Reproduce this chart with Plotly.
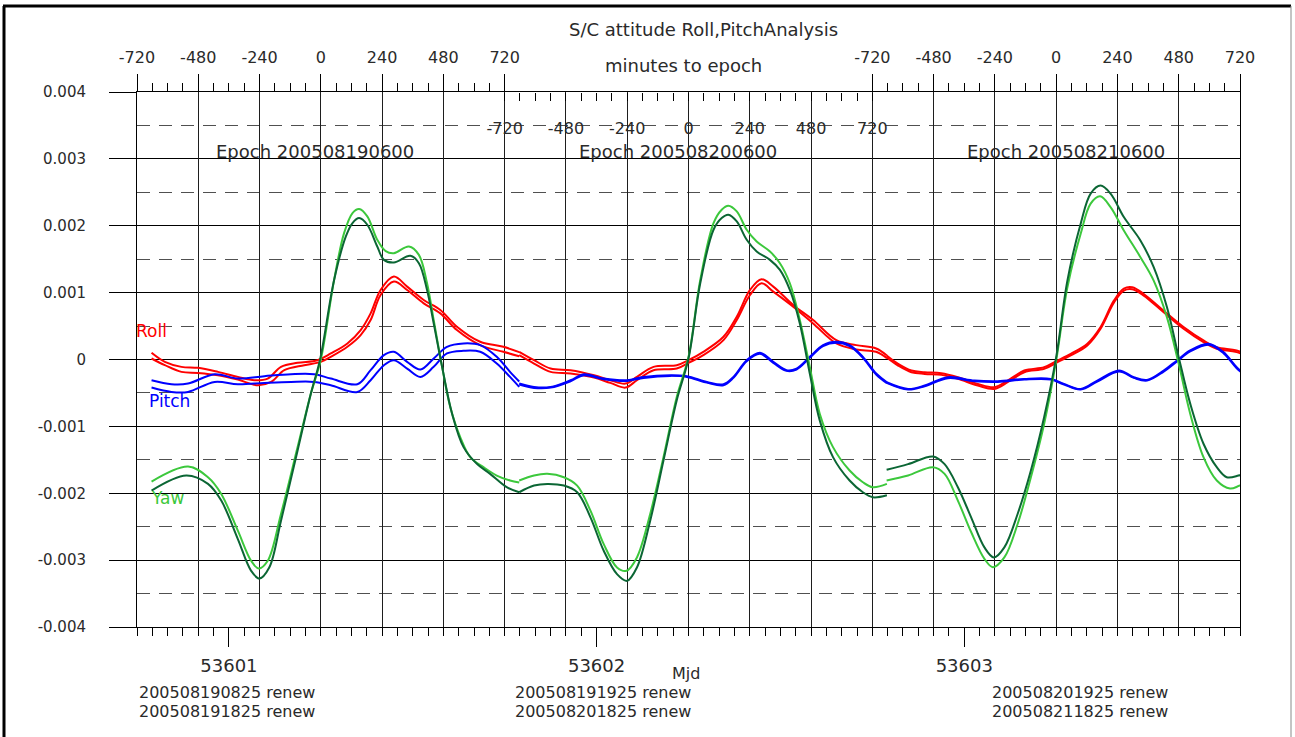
import plotly.graph_objects as go

# ---------------------------------------------------------------- canvas
W, H = 1295, 737
ML, MR, MT, MB = 137, 55, 92, 110
PW = W - ML - MR
PH = H - MT - MB


def px(x):
    """pixel column -> paper fraction"""
    return (x - ML) / PW


def py(y):
    """pixel row -> paper fraction"""
    return (H - MB - y) / PH


# ---------------------------------------------------------------- axes data
MJD_START, MJD_END = 53600.75, 53603.75
MJD_TICKS = [53601, 53602, 53603]
EPOCH_MJD = [53601.25, 53602.25, 53603.25]
EPOCH_NAMES = ["200508190600", "200508200600", "200508210600"]
MINUTE_TICKS = [-720, -480, -240, 0, 240, 480, 720]
Y_TICKS = [-0.004, -0.003, -0.002, -0.001, 0.0, 0.001, 0.002, 0.003, 0.004]
Y_TICK_TEXT = ["-0.004", "-0.003", "-0.002", "-0.001", "0",
               "0.001", "0.002", "0.003", "0.004"]
Y_HALF = [-0.0035, -0.0025, -0.0015, -0.0005, 0.0005, 0.0015, 0.0025, 0.0035]
RENEW_LABELS = [
    ["200508190825 renew", "200508191825 renew"],
    ["200508191925 renew", "200508201825 renew"],
    ["200508201925 renew", "200508211825 renew"],
]

SCALE = 1e-3  # values below are in units of 1e-3 rad

# ---------------------------------------------------------------- series
# (minutes to epoch, value) pairs, one list per prediction
ROLL_D1_A = [(-663, 0.10), (-611, -0.035), (-546, -0.11), (-481, -0.125), (-403, -0.185),
             (-325, -0.26), (-260, -0.31), (-208, -0.285), (-156, -0.11), (-91, -0.05),
             (-13, -0.01), (39, 0.09), (104, 0.24), (156, 0.44), (195, 0.69), (234, 1.04),
             (286, 1.24), (338, 1.09), (403, 0.89), (468, 0.74), (533, 0.49), (624, 0.265),
             (715, 0.19), (777, 0.11)]
ROLL_D1_B = [(-663, 0.015), (-611, -0.085), (-546, -0.185), (-481, -0.20), (-403, -0.235),
             (-325, -0.30), (-247, -0.385), (-195, -0.335), (-143, -0.16), (-65, -0.085),
             (0, -0.035), (39, 0.04), (104, 0.19), (156, 0.365), (195, 0.59), (234, 0.965),
             (286, 1.165), (338, 1.04), (403, 0.84), (468, 0.69), (533, 0.44), (624, 0.215),
             (715, 0.115), (777, 0.05)]
PITCH_D1_A = [(-663, -0.31), (-585, -0.37), (-520, -0.36), (-416, -0.22), (-325, -0.285),
              (-221, -0.25), (-117, -0.22), (-26, -0.22), (39, -0.285), (143, -0.37),
              (195, -0.16), (247, 0.065), (286, 0.115), (338, -0.035), (390, -0.15),
              (442, 0.015), (494, 0.19), (559, 0.24), (624, 0.215), (689, 0.04),
              (741, -0.185), (777, -0.33)]
PITCH_D1_B = [(-663, -0.42), (-585, -0.485), (-520, -0.485), (-416, -0.335), (-325, -0.37),
              (-221, -0.35), (-117, -0.335), (-26, -0.335), (39, -0.385), (143, -0.485),
              (195, -0.31), (247, -0.085), (286, -0.01), (338, -0.135), (390, -0.26),
              (442, -0.11), (494, 0.09), (559, 0.13), (624, 0.115), (689, -0.06),
              (741, -0.26), (777, -0.41)]
YAW_D1_A = [(-663, -1.825), (-520, -1.60), (-442, -1.76), (-390, -2.01), (-325, -2.56),
            (-273, -3.01), (-243, -3.125), (-208, -3.01), (-156, -2.31), (-91, -1.31),
            (-39, -0.51), (0, 0.0), (52, 1.19), (91, 1.89), (124, 2.19), (150, 2.25),
            (182, 2.14), (221, 1.79), (254, 1.62), (286, 1.59), (345, 1.69), (384, 1.565),
            (416, 1.14), (442, 0.59), (475, -0.11), (507, -0.71), (546, -1.16),
            (585, -1.46), (637, -1.61), (689, -1.735), (741, -1.81), (777, -1.84)]
YAW_D1_B = [(-663, -1.96), (-527, -1.735), (-442, -1.86), (-390, -2.11), (-325, -2.685),
            (-273, -3.16), (-241, -3.275), (-202, -3.11), (-156, -2.41), (-91, -1.36),
            (-39, -0.51), (-3, 0.0), (52, 1.19), (98, 1.84), (124, 2.04), (150, 2.115),
            (182, 2.015), (221, 1.69), (247, 1.49), (286, 1.45), (351, 1.55), (384, 1.44),
            (416, 1.04), (442, 0.54), (475, -0.11), (514, -0.81), (559, -1.31),
            (611, -1.56), (663, -1.71), (728, -1.91), (777, -1.985)]

ROLL_D2_A = [(-663, 0.115), (-605, -0.01), (-540, -0.135), (-462, -0.16), (-370, -0.235),
             (-306, -0.31), (-247, -0.36), (-202, -0.26), (-137, -0.11), (-46, -0.085),
             (0, -0.01), (58, 0.115), (137, 0.34), (189, 0.64), (241, 1.04), (286, 1.20),
             (332, 1.09), (410, 0.815), (488, 0.59), (579, 0.29), (657, 0.215), (735, 0.165),
             (777, 0.06)]
ROLL_D2_B = [(-663, 0.065), (-605, -0.06), (-540, -0.185), (-462, -0.21), (-370, -0.27),
             (-306, -0.35), (-247, -0.42), (-202, -0.31), (-137, -0.16), (-46, -0.135),
             (0, -0.05), (58, 0.065), (137, 0.29), (189, 0.59), (241, 0.965), (286, 1.14),
             (332, 1.015), (410, 0.79), (488, 0.54), (579, 0.24), (657, 0.15), (735, 0.115),
             (777, 0.02)]
PITCH_D2_A = [(-663, -0.36), (-605, -0.41), (-540, -0.41), (-462, -0.31), (-410, -0.22),
              (-332, -0.285), (-241, -0.31), (-176, -0.26), (-72, -0.235), (-6, -0.25),
              (72, -0.335), (137, -0.37), (176, -0.26), (228, -0.01), (280, 0.10),
              (332, -0.035), (384, -0.16), (423, -0.135), (475, 0.04), (527, 0.215),
              (579, 0.265), (631, 0.215), (683, 0.04), (735, -0.21), (777, -0.34)]
PITCH_D2_B = [(-663, -0.375), (-605, -0.425), (-540, -0.42), (-462, -0.325), (-410, -0.235),
              (-332, -0.295), (-241, -0.32), (-176, -0.275), (-72, -0.245), (-6, -0.26),
              (72, -0.345), (137, -0.385), (176, -0.275), (228, -0.025), (280, 0.085),
              (332, -0.05), (384, -0.17), (423, -0.15), (475, 0.025), (527, 0.20),
              (579, 0.25), (631, 0.20), (683, 0.025), (735, -0.225), (777, -0.355)]
YAW_D2_A = [(-663, -1.81), (-605, -1.735), (-553, -1.71), (-488, -1.76), (-436, -1.885),
            (-384, -2.26), (-332, -2.76), (-280, -3.11), (-243, -3.16), (-202, -2.96),
            (-150, -2.31), (-98, -1.46), (-46, -0.56), (0, 0.04), (46, 1.19), (98, 2.04),
            (130, 2.24), (156, 2.30), (189, 2.215), (228, 1.94), (267, 1.765), (319, 1.615),
            (358, 1.44), (397, 1.14), (436, 0.59), (475, -0.11), (514, -0.81),
            (566, -1.31), (631, -1.66), (683, -1.835), (722, -1.91), (777, -1.86)]
YAW_D2_B = [(-663, -1.985), (-605, -1.885), (-553, -1.86), (-488, -1.885), (-436, -1.985),
            (-384, -2.36), (-332, -2.86), (-280, -3.21), (-241, -3.31), (-202, -3.11),
            (-150, -2.41), (-98, -1.51), (-46, -0.61), (0, 0.015), (46, 1.14), (98, 1.94),
            (130, 2.115), (156, 2.165), (189, 2.065), (228, 1.79), (267, 1.615),
            (319, 1.49), (358, 1.34), (397, 1.04), (436, 0.54), (475, -0.21), (514, -0.91),
            (566, -1.46), (631, -1.81), (683, -1.985), (722, -2.06), (777, -2.03)]

ROLL_D3_A = [(-664, 0.06), (-619, -0.065), (-567, -0.165), (-515, -0.19), (-450, -0.205),
             (-385, -0.265), (-307, -0.365), (-242, -0.415), (-190, -0.315), (-125, -0.165),
             (-47, -0.115), (0, -0.025), (57, 0.085), (122, 0.235), (174, 0.485),
             (226, 0.88), (265, 1.06), (298, 1.08), (343, 0.98), (421, 0.73), (499, 0.485),
             (577, 0.285), (629, 0.185), (707, 0.135), (777, 0.03)]
ROLL_D3_B = [(-664, 0.03), (-619, -0.09), (-567, -0.19), (-515, -0.215), (-450, -0.23),
             (-385, -0.29), (-307, -0.39), (-242, -0.44), (-190, -0.34), (-125, -0.19),
             (-47, -0.14), (0, -0.05), (57, 0.06), (122, 0.21), (174, 0.46),
             (226, 0.85), (265, 1.03), (298, 1.05), (343, 0.955), (421, 0.705), (499, 0.46),
             (577, 0.26), (629, 0.16), (707, 0.11), (777, 0.0)]
PITCH_D3_A = [(-664, -0.34), (-580, -0.44), (-515, -0.39), (-424, -0.265), (-320, -0.315),
              (-229, -0.325), (-125, -0.29), (-21, -0.29), (31, -0.365), (96, -0.44),
              (161, -0.315), (246, -0.165), (304, -0.265), (356, -0.305), (421, -0.165),
              (473, -0.015), (525, 0.135), (597, 0.235), (655, 0.11), (707, -0.115),
              (777, -0.34)]
PITCH_D3_B = [(-664, -0.35), (-580, -0.45), (-515, -0.40), (-424, -0.28), (-320, -0.325),
              (-229, -0.335), (-125, -0.30), (-21, -0.30), (31, -0.375), (96, -0.45),
              (161, -0.33), (246, -0.18), (304, -0.275), (356, -0.315), (421, -0.18),
              (473, -0.03), (525, 0.12), (597, 0.22), (655, 0.095), (707, -0.13),
              (777, -0.355)]
YAW_D3_A = [(-664, -1.81), (-580, -1.735), (-482, -1.61), (-437, -1.71), (-385, -2.11),
            (-333, -2.58), (-281, -2.98), (-248, -3.105), (-203, -2.96), (-151, -2.46),
            (-99, -1.76), (-47, -0.96), (0, -0.015), (44, 1.08), (96, 1.88), (135, 2.33),
            (172, 2.44), (213, 2.28), (265, 1.93), (330, 1.53), (382, 1.18), (434, 0.63),
            (480, -0.065), (525, -0.81), (577, -1.46), (629, -1.81), (681, -1.93),
            (720, -1.885), (777, -1.82)]
YAW_D3_B = [(-664, -1.65), (-580, -1.565), (-482, -1.45), (-437, -1.565), (-385, -1.91),
            (-333, -2.36), (-281, -2.81), (-244, -2.96), (-203, -2.81), (-151, -2.31),
            (-99, -1.66), (-47, -0.86), (0, 0.035), (44, 1.18), (96, 2.03), (135, 2.48),
            (174, 2.60), (213, 2.48), (265, 2.13), (330, 1.78), (382, 1.38), (434, 0.78),
            (480, 0.035), (525, -0.66), (577, -1.26), (629, -1.61), (668, -1.76),
            (714, -1.735), (777, -1.64)]

ROLL_COLOR = "#ff0000"
PITCH_COLOR = "#0000ff"
YAW_LIGHT = "#3cc83c"
YAW_DARK = "#0b6634"

DAYS = [
    [(ROLL_D1_A, ROLL_COLOR), (ROLL_D1_B, ROLL_COLOR), (PITCH_D1_A, PITCH_COLOR),
     (PITCH_D1_B, PITCH_COLOR), (YAW_D1_A, YAW_LIGHT), (YAW_D1_B, YAW_DARK)],
    [(ROLL_D2_A, ROLL_COLOR), (ROLL_D2_B, ROLL_COLOR), (PITCH_D2_A, PITCH_COLOR),
     (PITCH_D2_B, PITCH_COLOR), (YAW_D2_A, YAW_LIGHT), (YAW_D2_B, YAW_DARK)],
    [(ROLL_D3_A, ROLL_COLOR), (ROLL_D3_B, ROLL_COLOR), (PITCH_D3_A, PITCH_COLOR),
     (PITCH_D3_B, PITCH_COLOR), (YAW_D3_A, YAW_LIGHT), (YAW_D3_B, YAW_DARK)],
]

FONT_FAMILY = "DejaVu Sans"
TXT = "#2a2a2a"
FONT = dict(family=FONT_FAMILY, size=18, color=TXT)
SMALL_FONT = dict(family=FONT_FAMILY, size=16, color=TXT)
Y_FONT = dict(family=FONT_FAMILY, size=15, color=TXT)
MIN_FONT = dict(family=FONT_FAMILY, size=16, color=TXT)

fig = go.Figure()

# anchor trace for the Mjd axis
fig.add_trace(go.Scatter(x=[MJD_START, MJD_END], y=[None, None], mode="lines",
                         showlegend=False, hoverinfo="skip"))

for i, day in enumerate(DAYS):
    xa = "x%d" % (i + 2)
    for pts, color in day:
        fig.add_trace(go.Scatter(
            x=[m for m, _ in pts], y=[v * SCALE for _, v in pts],
            mode="lines", xaxis=xa, yaxis="y",
            line=dict(color=color, width=2, shape="spline", smoothing=1.0),
            showlegend=False, hoverinfo="skip"))

hours = [MJD_START + h / 24 for h in range(0, 73)]
minor_minutes = [m for m in range(-720, 721, 60) if m % 240]

layout_axes = {}
layout_axes["xaxis"] = dict(
    range=[MJD_START, MJD_END], domain=[0, 1],
    tickmode="array", tickvals=MJD_TICKS, ticktext=[str(t) for t in MJD_TICKS],
    ticks="outside", ticklen=19, tickwidth=1, tickcolor="black",
    ticklabelstandoff=3,
    showgrid=False, zeroline=False,
    showline=True, linecolor="black", linewidth=1, mirror=True,
    tickfont=FONT,
    minor=dict(tickmode="array", tickvals=hours, ticks="outside", ticklen=8,
               tickwidth=1, tickcolor="black", showgrid=False),
)

for i, ep in enumerate(EPOCH_MJD):
    rng = [(MJD_START - ep) * 1440, (MJD_END - ep) * 1440]
    ax = dict(
        overlaying="x", range=rng,
        tickmode="array", tickvals=MINUTE_TICKS, ticktext=[str(t) for t in MINUTE_TICKS],
        ticks="outside", tickwidth=1, tickcolor="black",
        showgrid=True, gridcolor="#1e1e1e", gridwidth=1,
        zeroline=False, showline=False, tickfont=MIN_FONT,
        minor=dict(tickmode="array", tickvals=minor_minutes, ticks="outside", ticklen=8,
                   tickwidth=1, tickcolor="black", showgrid=False),
    )
    if i == 1:
        ax.update(anchor="free", position=1.0, side="bottom", ticklen=8,
                  ticklabelstandoff=14)
    else:
        ax.update(anchor="y", side="top", ticklen=17, ticklabelstandoff=5)
    layout_axes["xaxis%d" % (i + 2)] = ax

layout_axes["yaxis"] = dict(
    range=[-0.004, 0.004], domain=[0, 1],
    tickmode="array", tickvals=Y_TICKS, ticktext=Y_TICK_TEXT,
    ticks="outside", ticklen=27, tickwidth=1, tickcolor="black",
    ticklabelstandoff=20,
    showgrid=True, gridcolor="black", gridwidth=1, zeroline=False,
    showline=True, linecolor="black", linewidth=1, mirror=True,
    tickfont=Y_FONT,
    minor=dict(tickmode="array", tickvals=Y_HALF, ticks="", showgrid=True,
               gridcolor="#505050", gridwidth=1, griddash="13px,9px"),
)

annotations = [
    dict(text="S/C attitude Roll,PitchAnalysis", x=px(703), y=py(30)),
    dict(text="minutes to epoch", x=px(683), y=py(65)),
    dict(text="Mjd", x=px(686), y=py(673), font=SMALL_FONT),
]
for name, cx in zip(EPOCH_NAMES, [315, 678, 1066]):
    annotations.append(dict(text="Epoch " + name, x=px(cx), y=py(151)))
for pair, lx in zip(RENEW_LABELS, [137, 513, 990]):
    annotations.append(dict(text=pair[0], x=px(lx), y=py(692), xanchor="left",
                            font=SMALL_FONT))
    annotations.append(dict(text=pair[1], x=px(lx), y=py(711), xanchor="left",
                            font=SMALL_FONT))
for text, color, lx, ly in [("Roll", ROLL_COLOR, 134, 331), ("Pitch", PITCH_COLOR, 147, 401),
                            ("Yaw", YAW_LIGHT, 149, 498)]:
    annotations.append(dict(text=text, x=px(lx), y=py(ly), xanchor="left",
                            font=dict(family=FONT_FAMILY, size=17, color=color)))
for a in annotations:
    a.setdefault("xanchor", "center")
    a.update(xref="paper", yref="paper", yanchor="middle", showarrow=False)
    a.setdefault("font", FONT)

# window frame
shapes = [
    dict(type="line", x0=px(4), x1=px(4), y0=py(6), y1=py(745),
         line=dict(color="black", width=3)),
    dict(type="line", x0=px(3), x1=px(1291), y0=py(6), y1=py(6),
         line=dict(color="black", width=3)),
    dict(type="line", x0=px(1291), x1=px(1291), y0=py(6), y1=py(745),
         line=dict(color="#8a8a8a", width=1)),
]
for s in shapes:
    s.update(xref="paper", yref="paper", layer="above")

fig.update_layout(
    width=W, height=H,
    margin=dict(l=ML, r=MR, t=MT, b=MB, autoexpand=False),
    paper_bgcolor="white", plot_bgcolor="white",
    showlegend=False,
    annotations=annotations, shapes=shapes,
    **layout_axes,
)

fig.write_html("out.html")
